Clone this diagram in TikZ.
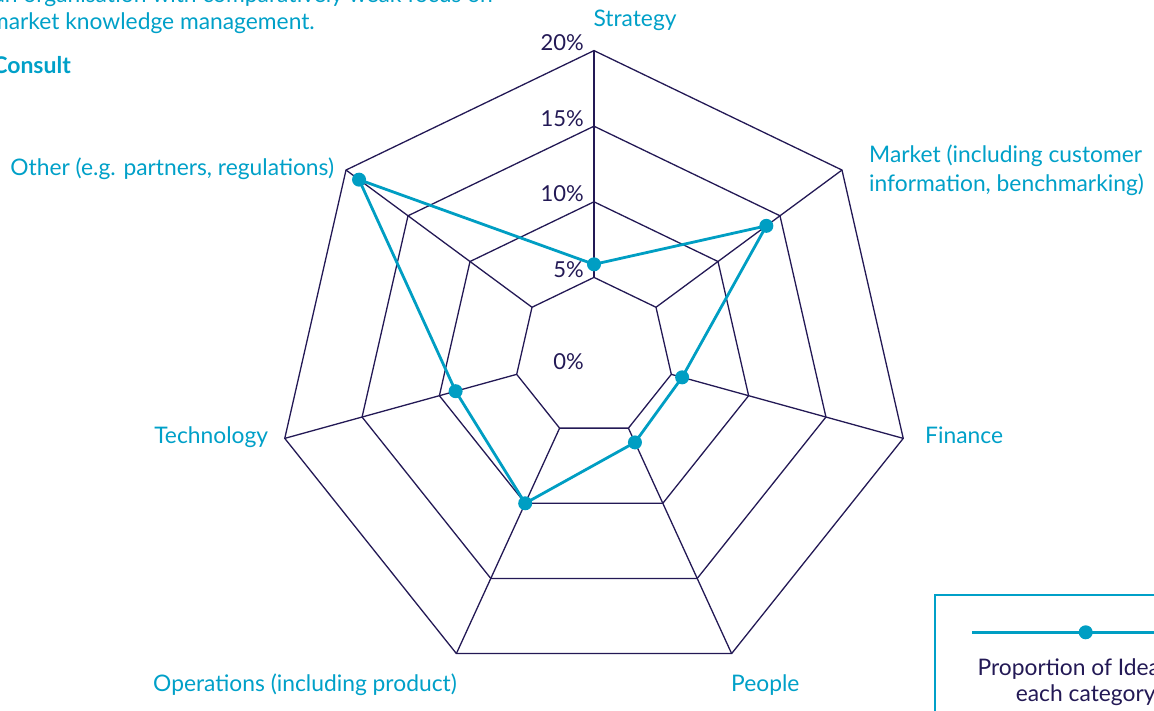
\documentclass[tikz,border=0pt]{standalone}
\usepackage{fontspec}
\setmainfont{Lato}
\definecolor{navy}{RGB}{35,25,85}
\definecolor{cyantext}{RGB}{0,160,200}
\definecolor{dataline}{RGB}{0,158,195}
\tikzset{
  gridline/.style={draw=navy, line width=1.3pt, line join=miter},
  dline/.style={draw=dataline, line width=2.8pt, line join=round},
  dot/.style={circle, fill=dataline, inner sep=0pt, minimum size=14pt},
  lbl/.style={text=cyantext, font=\fontsize{22.8}{29.4}\selectfont, inner sep=0pt},
  pct/.style={text=navy, font=\fontsize{22}{26}\selectfont, inner sep=0pt, anchor=base east},
  legendbox/.style={draw=cyantext, line width=1.5pt},
  legtext/.style={text=navy, font=\fontsize{22.8}{26.7}\selectfont, inner sep=0pt, align=center, anchor=base}
}
\begin{document}
\begin{tikzpicture}[x=1pt,y=-1pt]
\useasboundingbox (0,0) rectangle (1154,711);
\clip (0,0) rectangle (1154,711);
% ring vertices
\foreach \i/\a in {0/90, 1/38.5714, 2/-12.8571, 3/-64.2857, 4/-115.7143, 5/-167.1429, 6/141.4286}{
  \foreach \k in {1,2,3,4}{
    \coordinate (r\k-\i) at ({594+79.3*\k*cos(\a)}, {353+3.7*\k-79.3*\k*sin(\a)});
  }
}
% rings
\foreach \k in {1,2,3,4}{
  \draw[gridline] (r\k-0) -- (r\k-1) -- (r\k-2) -- (r\k-3) -- (r\k-4) -- (r\k-5) -- (r\k-6) -- cycle;
}
% spokes
\foreach \i in {0,...,6}{
  \draw[gridline] (r1-\i) -- (r4-\i);
}
% percent labels
\node[pct] (p20) at ([xshift=-10pt]r4-0) {20\%};
\node[pct] (p15) at ([xshift=-10pt]r3-0) {15\%};
\node[pct] (p10) at ([xshift=-10pt]r2-0) {10\%};
\node[pct] (p5) at ([xshift=-10pt]r1-0) {5\%};
\node[pct] (p0) at (584,370) {0\%};
% data
\foreach \i/\a/\v in {0/90/1.173, 1/38.5714/2.78, 2/-12.8571/1.14, 3/-64.2857/1.19, 4/-115.7143/2.0, 5/-167.1429/1.79, 6/141.4286/3.79}{
  \coordinate (d\i) at ({594+79.3*\v*cos(\a)}, {353+3.7*\v-79.3*\v*sin(\a)});
}
\draw[dline] (d0) -- (d1) -- (d2) -- (d3) -- (d4) -- (d5) -- (d6) -- cycle;
\foreach \i in {0,...,6}{
  \node[dot] (m\i) at (d\i) {};
}
% category labels
\node[lbl, anchor=base west] (strategy) at (593.3,26.7) {Strategy};
\node[lbl, anchor=base west, align=left] (market) at (869,191.7) {Market (including customer\\information, benchmarking)};
\node[lbl, anchor=base west] (finance) at (925,443.3) {Finance};
\node[lbl, anchor=base west] (people) at (731,691) {People};
\node[lbl, anchor=base west] (operations) at (153,691) {Operations (including product)};
\node[lbl, anchor=base east] (technology) at (268.3,443.3) {Technology};
\node[lbl, anchor=base east] (other) at (334.3,176) {Other (e.g. partners, regulations)};
% top-left text
\node[lbl, anchor=base east] (intro1) at (493,3) {an organisation with comparatively weak focus on};
\node[lbl, anchor=base east] (intro2) at (315,29.5) {market knowledge management.};
\node[lbl, anchor=base east, font=\fontsize{23}{29.4}\selectfont\bfseries] (consult) at (71,73.3) {Consult};
% legend
\draw[legendbox] (935,595) rectangle (1236,760);
\coordinate (legA) at (972,632.3);
\coordinate (legB) at (1199,632.3);
\draw[dline] (legA) -- (legB);
\node[dot] (legdot) at (1085.7,632.3) {};
\node[legtext] (legend) at (1085.7,701.7) {Proportion of Ideas in\\each category};
\end{tikzpicture}
\end{document}
